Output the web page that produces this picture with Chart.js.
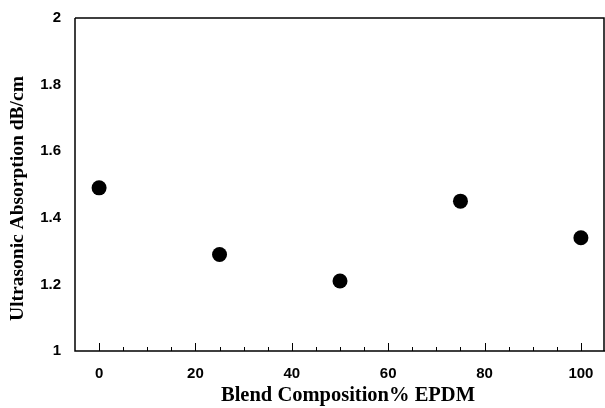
<!DOCTYPE html>
<html>
<head>
<meta charset="utf-8">
<script src="https://cdn.jsdelivr.net/npm/chart.js@4/dist/chart.umd.min.js"></script>
<style>
  html, body { margin: 0; padding: 0; background: #ffffff; overflow: hidden; }
  canvas { display: block; }
</style>
</head>
<body>
<canvas id="c" width="605" height="408"></canvas>
<script>
// Data
const compositions = [0, 25, 50, 75, 100];          // Blend composition % EPDM
const absorption   = [1.49, 1.29, 1.21, 1.45, 1.34]; // Ultrasonic absorption dB/cm

// Axis ticks
const xMajorTicks = [0, 20, 40, 60, 80, 100];
const xMinorTicks = [5, 10, 15, 25, 30, 35, 45, 50, 55, 65, 70, 75, 85, 90, 95];
const yTicks = [1, 1.2, 1.4, 1.6, 1.8, 2];

const xTitle = 'Blend Composition% EPDM';
const yTitle = 'Ultrasonic Absorption dB/cm';

const points = compositions.map((x, i) => ({ x: x, y: absorption[i] }));

const framePlugin = {
  id: 'frame',
  afterDatasetsDraw(chart) {
    const { ctx, chartArea: a, scales } = chart;
    ctx.save();
    ctx.strokeStyle = '#000';
    ctx.lineWidth = 1.5;
    ctx.beginPath();
    ctx.moveTo(a.left, a.top);
    ctx.lineTo(a.right - 1, a.top);
    ctx.lineTo(a.right - 1, a.bottom);
    ctx.moveTo(a.left, a.top);
    ctx.lineTo(a.left, a.bottom);
    ctx.lineTo(a.right, a.bottom);
    ctx.stroke();
    ctx.lineWidth = 1;
    ctx.beginPath();
    xMajorTicks.forEach(v => {
      const px = Math.round(scales.x.getPixelForValue(v)) + 0.5;
      ctx.moveTo(px, a.bottom);
      ctx.lineTo(px, a.bottom - 8);
    });
    xMinorTicks.forEach(v => {
      const px = Math.round(scales.x.getPixelForValue(v)) + 0.5;
      ctx.moveTo(px, a.bottom);
      ctx.lineTo(px, a.bottom - 4);
    });
    ctx.stroke();
    ctx.fillStyle = '#000';
    ctx.textAlign = 'center';
    ctx.textBaseline = 'middle';
    // X axis title
    ctx.font = 'bold 20.5px "Liberation Serif"';
    ctx.fillText(xTitle, (a.left + a.right) / 2 + 8, 396);
    // Y axis title (offset slightly below the plot centre as in the reference)
    ctx.font = 'bold 19.5px "Liberation Serif"';
    ctx.translate(18, (a.top + a.bottom) / 2 + 14);
    ctx.rotate(-Math.PI / 2);
    ctx.fillText(yTitle, 0, 0);
    ctx.restore();
  }
};

new Chart(document.getElementById('c'), {
  type: 'scatter',
  data: {
    datasets: [{
      data: points,
      backgroundColor: '#000',
      borderColor: '#000',
      pointRadius: 7.5,
      pointHoverRadius: 7.5,
      borderWidth: 0
    }]
  },
  options: {
    responsive: false,
    animation: false,
    events: [],
    layout: { autoPadding: false, padding: { top: 18, right: 0, bottom: 0, left: 0 } },
    plugins: { legend: { display: false }, tooltip: { enabled: false } },
    scales: {
      x: {
        type: 'linear',
        min: -5,
        max: 105,
        afterBuildTicks: s => { s.ticks = xMajorTicks.map(v => ({ value: v })); },
        afterFit: s => { s.height = 57; s.paddingLeft = 0; s.paddingRight = 0; },
        grid: { display: false, drawTicks: false },
        border: { display: false },
        ticks: {
          color: '#000',
          padding: 14,
          font: { family: 'Liberation Sans', size: 15, weight: 'bold' }
        },
        title: { display: false }
      },
      y: {
        type: 'linear',
        min: 1,
        max: 2,
        afterBuildTicks: s => { s.ticks = yTicks.map(v => ({ value: v })); },
        afterFit: s => { s.width = 75; s.paddingTop = 0; s.paddingBottom = 0; },
        grid: { display: false, drawTicks: false },
        border: { display: false },
        ticks: {
          color: '#000',
          padding: 14,
          font: { family: 'Liberation Sans', size: 15, weight: 'bold' },
          callback: v => String(v)
        },
        title: { display: false }
      }
    }
  },
  plugins: [framePlugin]
});
</script>
</body>
</html>
